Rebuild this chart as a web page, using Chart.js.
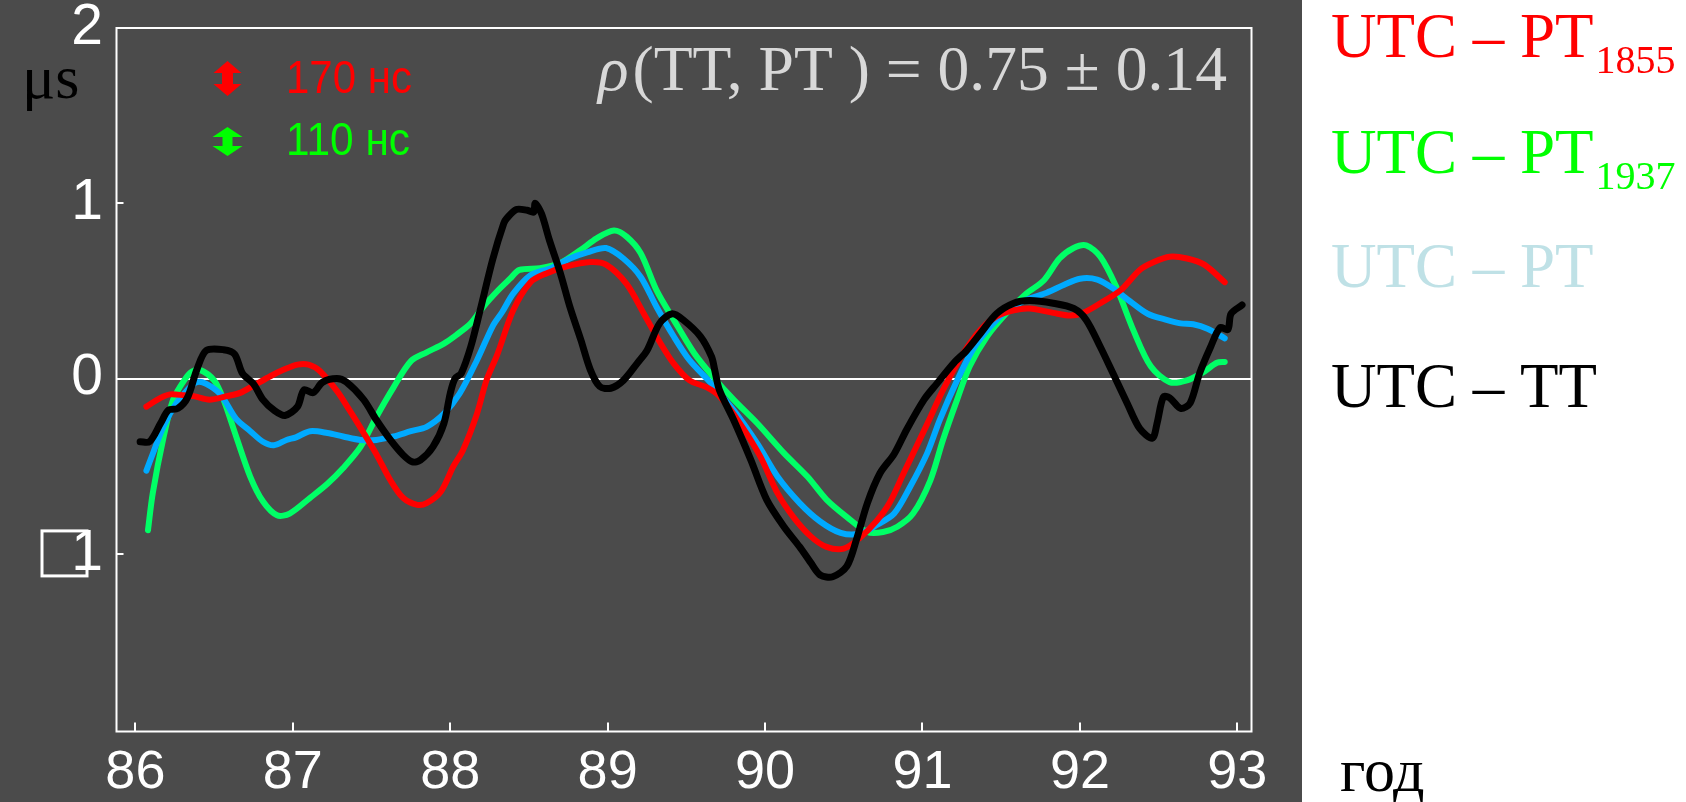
<!DOCTYPE html>
<html>
<head>
<meta charset="utf-8">
<script src="https://cdn.jsdelivr.net/npm/chart.js@4/dist/chart.umd.min.js"></script>
<style>
  html, body { margin: 0; padding: 0; background: #fff; }
  #wrap { width: 1686px; height: 802px; }
</style>
</head>
<body>
<div id="wrap"><canvas id="chart" width="1686" height="802"></canvas></div>
<script>
// UTC - PT(1855)
const years1855 = [86.07, 86.16, 86.22, 86.31, 86.37, 86.47, 86.58, 86.67, 86.75, 86.86, 86.94, 87.03, 87.10, 87.17, 87.28, 87.36, 87.45, 87.53, 87.62, 87.70, 87.79, 87.85, 87.94, 88.02, 88.08, 88.17, 88.23, 88.30, 88.40, 88.51, 88.61, 88.74, 88.89, 88.99, 89.12, 89.23, 89.33, 89.42, 89.52, 89.63, 89.71, 89.84, 89.97, 90.08, 90.18, 90.29, 90.39, 90.50, 90.60, 90.71, 90.79, 90.88, 90.96, 91.05, 91.13, 91.26, 91.37, 91.47, 91.58, 91.68, 91.83, 91.94, 92.02, 92.13, 92.26, 92.38, 92.47, 92.57, 92.68, 92.79, 92.92];
const utcPt1855 = [-0.16, -0.11, -0.09, -0.095, -0.10, -0.12, -0.10, -0.08, -0.04, 0.015, 0.05, 0.08, 0.08, 0.045, -0.07, -0.18, -0.31, -0.43, -0.58, -0.68, -0.72, -0.71, -0.645, -0.50, -0.41, -0.20, -0.01, 0.14, 0.39, 0.55, 0.60, 0.64, 0.665, 0.65, 0.54, 0.37, 0.21, 0.085, -0.01, -0.05, -0.10, -0.255, -0.445, -0.655, -0.79, -0.90, -0.96, -0.97, -0.91, -0.81, -0.71, -0.54, -0.39, -0.22, -0.065, 0.145, 0.28, 0.355, 0.39, 0.40, 0.375, 0.36, 0.375, 0.43, 0.505, 0.62, 0.665, 0.695, 0.685, 0.65, 0.55];

// UTC - PT(1937)
const years1937 = [86.08, 86.11, 86.18, 86.24, 86.31, 86.36, 86.41, 86.50, 86.56, 86.64, 86.73, 86.81, 86.90, 86.98, 87.11, 87.22, 87.32, 87.43, 87.53, 87.64, 87.75, 87.85, 87.96, 88.04, 88.13, 88.21, 88.30, 88.38, 88.44, 88.57, 88.70, 88.83, 88.93, 89.04, 89.12, 89.21, 89.31, 89.42, 89.55, 89.67, 89.80, 89.95, 90.12, 90.27, 90.39, 90.52, 90.65, 90.75, 90.84, 90.94, 91.05, 91.13, 91.22, 91.30, 91.41, 91.54, 91.66, 91.77, 91.87, 91.96, 92.04, 92.13, 92.23, 92.34, 92.45, 92.57, 92.68, 92.79, 92.87, 92.92];
const utcPt1937 = [-0.865, -0.655, -0.33, -0.12, -0.01, 0.04, 0.05, -0.01, -0.12, -0.33, -0.56, -0.70, -0.78, -0.77, -0.68, -0.60, -0.51, -0.39, -0.22, -0.05, 0.10, 0.15, 0.20, 0.25, 0.315, 0.41, 0.50, 0.57, 0.62, 0.63, 0.66, 0.735, 0.80, 0.845, 0.81, 0.715, 0.505, 0.335, 0.145, 0.01, -0.12, -0.255, -0.425, -0.56, -0.69, -0.79, -0.875, -0.875, -0.845, -0.77, -0.58, -0.35, -0.12, 0.07, 0.24, 0.38, 0.485, 0.56, 0.685, 0.745, 0.76, 0.695, 0.525, 0.275, 0.07, -0.02, -0.01, 0.04, 0.09, 0.095];

// UTC - PT (ensemble)
const yearsPT = [86.07, 86.11, 86.18, 86.26, 86.33, 86.39, 86.45, 86.54, 86.64, 86.73, 86.81, 86.88, 86.96, 87.02, 87.11, 87.22, 87.32, 87.43, 87.53, 87.64, 87.75, 87.85, 87.96, 88.06, 88.17, 88.27, 88.33, 88.40, 88.51, 88.64, 88.76, 88.87, 88.99, 89.10, 89.21, 89.31, 89.42, 89.52, 89.65, 89.80, 89.95, 90.08, 90.22, 90.35, 90.48, 90.60, 90.71, 90.82, 90.92, 91.03, 91.11, 91.22, 91.32, 91.43, 91.54, 91.66, 91.79, 91.90, 92.00, 92.11, 92.21, 92.32, 92.43, 92.55, 92.64, 92.72, 92.81, 92.92];
const utcPt = [-0.525, -0.43, -0.27, -0.14, -0.065, -0.02, -0.03, -0.09, -0.23, -0.30, -0.36, -0.38, -0.35, -0.335, -0.30, -0.31, -0.33, -0.35, -0.35, -0.33, -0.30, -0.275, -0.20, -0.085, 0.105, 0.30, 0.38, 0.485, 0.59, 0.63, 0.685, 0.72, 0.745, 0.685, 0.58, 0.41, 0.24, 0.105, -0.02, -0.18, -0.37, -0.56, -0.71, -0.815, -0.88, -0.885, -0.835, -0.77, -0.62, -0.425, -0.235, -0.01, 0.165, 0.295, 0.39, 0.45, 0.49, 0.535, 0.57, 0.565, 0.515, 0.44, 0.37, 0.335, 0.315, 0.31, 0.285, 0.23];

// UTC - TT
const yearsTT = [86.03, 86.09, 86.16, 86.21, 86.27, 86.33, 86.39, 86.45, 86.56, 86.63, 86.68, 86.75, 86.81, 86.88, 86.95, 87.03, 87.07, 87.13, 87.19, 87.28, 87.34, 87.45, 87.53, 87.62, 87.70, 87.76, 87.81, 87.89, 87.96, 88.00, 88.03, 88.07, 88.13, 88.19, 88.27, 88.34, 88.36, 88.42, 88.49, 88.53, 88.54, 88.58, 88.63, 88.70, 88.76, 88.83, 88.89, 88.95, 89.02, 89.10, 89.19, 89.25, 89.33, 89.41, 89.48, 89.59, 89.66, 89.68, 89.71, 89.80, 89.91, 90.01, 90.12, 90.22, 90.29, 90.35, 90.43, 90.52, 90.58, 90.65, 90.73, 90.82, 90.90, 91.01, 91.09, 91.20, 91.28, 91.37, 91.47, 91.58, 91.68, 91.83, 91.96, 92.04, 92.13, 92.21, 92.30, 92.38, 92.46, 92.49, 92.53, 92.57, 92.64, 92.70, 92.76, 92.83, 92.89, 92.94, 92.96, 93.03];
const utcTT = [-0.36, -0.36, -0.255, -0.18, -0.17, -0.11, 0.05, 0.16, 0.165, 0.14, 0.03, -0.03, -0.12, -0.18, -0.21, -0.16, -0.065, -0.08, -0.02, 0.00, -0.02, -0.12, -0.235, -0.35, -0.435, -0.475, -0.465, -0.39, -0.255, -0.085, 0.00, 0.03, 0.18, 0.39, 0.68, 0.885, 0.915, 0.965, 0.96, 0.95, 1.00, 0.94, 0.79, 0.60, 0.41, 0.22, 0.05, -0.045, -0.055, -0.01, 0.09, 0.16, 0.315, 0.37, 0.335, 0.24, 0.125, 0.05, -0.065, -0.235, -0.465, -0.69, -0.845, -0.96, -1.05, -1.12, -1.13, -1.07, -0.92, -0.71, -0.54, -0.43, -0.29, -0.12, -0.03, 0.09, 0.16, 0.26, 0.37, 0.43, 0.445, 0.43, 0.40, 0.335, 0.18, 0.03, -0.14, -0.285, -0.34, -0.255, -0.105, -0.11, -0.17, -0.14, 0.03, 0.18, 0.29, 0.28, 0.37, 0.42];

const xTicks = [86, 87, 88, 89, 90, 91, 92, 93];
const yTicks = [2, 1, 0, -1];
const yTickMarks = [1, -1];

const DARK = '#4b4b4b';
const SANS = '"Liberation Sans", Arial, sans-serif';
const SERIF = '"Liberation Serif", "Times New Roman", serif';

function toPoints(xs, ys) {
  return xs.map((x, i) => ({ x: x, y: ys[i] }));
}

function series(label, xs, ys, color, width, order) {
  return {
    label: label,
    data: toPoints(xs, ys),
    borderColor: color,
    borderWidth: width,
    borderCapStyle: 'round',
    borderJoinStyle: 'round',
    tension: 0.3,
    pointRadius: 0,
    fill: false,
    order: order
  };
}

// squeeze text horizontally into a given width
function fitText(ctx, str, x, y, width) {
  const w = ctx.measureText(str).width;
  ctx.save();
  ctx.translate(x, y);
  ctx.scale(Math.min(1, width / w), 1);
  ctx.fillText(str, 0, 0);
  ctx.restore();
}

function doubleArrow(ctx, cx, top, bottom, w, headH, shaftW, color) {
  ctx.beginPath();
  ctx.moveTo(cx, top);
  ctx.lineTo(cx + w / 2, top + headH);
  ctx.lineTo(cx + shaftW / 2, top + headH);
  ctx.lineTo(cx + shaftW / 2, bottom - headH);
  ctx.lineTo(cx + w / 2, bottom - headH);
  ctx.lineTo(cx, bottom);
  ctx.lineTo(cx - w / 2, bottom - headH);
  ctx.lineTo(cx - shaftW / 2, bottom - headH);
  ctx.lineTo(cx - shaftW / 2, top + headH);
  ctx.lineTo(cx - w / 2, top + headH);
  ctx.closePath();
  ctx.fillStyle = color;
  ctx.fill();
}

const backdrop = {
  id: 'backdrop',
  beforeDraw(chart) {
    const ctx = chart.ctx;
    ctx.save();
    ctx.fillStyle = '#ffffff';
    ctx.fillRect(0, 0, chart.width, chart.height);
    ctx.fillStyle = DARK;
    ctx.fillRect(0, 0, 1302, chart.height);
    ctx.restore();
  }
};

const frameAndNotes = {
  id: 'frameAndNotes',
  afterDraw(chart) {
    const ctx = chart.ctx;
    const a = chart.chartArea;
    const xs = chart.scales.x, ys = chart.scales.y;
    ctx.save();

    // frame
    ctx.strokeStyle = '#ffffff';
    ctx.lineWidth = 2;
    ctx.strokeRect(a.left, a.top, a.right - a.left, a.bottom - a.top);

    // inward tick marks
    ctx.beginPath();
    xTicks.forEach(v => {
      const px = Math.round(xs.getPixelForValue(v));
      ctx.moveTo(px, a.bottom);
      ctx.lineTo(px, a.bottom - 9);
    });
    yTickMarks.forEach(v => {
      const py = Math.round(ys.getPixelForValue(v));
      ctx.moveTo(a.left, py);
      ctx.lineTo(a.left + 7, py);
    });
    ctx.stroke();

    // the minus of the -1 label comes out as an empty box
    const pm = ys.getPixelForValue(-1);
    ctx.lineWidth = 3;
    ctx.strokeRect(42, pm - 23, 45, 45);

    // unit label
    ctx.fillStyle = '#000000';
    ctx.font = '62px ' + SERIF;
    ctx.textBaseline = 'alphabetic';
    ctx.textAlign = 'left';
    ctx.fillText('\u03bcs', 22, 98);

    // error scale arrows
    doubleArrow(ctx, 227.5, 61, 96, 28, 12, 11, '#ff0000');
    doubleArrow(ctx, 227.5, 127, 156, 30, 10, 10, '#00ff00');
    ctx.font = '46px ' + SANS;
    ctx.fillStyle = '#ff0000';
    fitText(ctx, '170 \u043d\u0441', 286, 93, 126);
    ctx.fillStyle = '#00ff00';
    fitText(ctx, '110 \u043d\u0441', 286, 155, 124);

    // correlation
    ctx.fillStyle = '#d8d8d8';
    const rho = '\u03c1';
    const rest = '(TT, PT ) = 0.75 \u00b1 0.14';
    ctx.font = 'italic 64px ' + SERIF;
    const wRho = ctx.measureText(rho).width;
    ctx.font = '64px ' + SERIF;
    const wRest = ctx.measureText(rest).width;
    const k = 625 / (wRho + wRest);
    ctx.save();
    ctx.translate(598, 90);
    ctx.scale(k, 1);
    ctx.font = 'italic 64px ' + SERIF;
    ctx.fillText(rho, 0, 0);
    ctx.font = '64px ' + SERIF;
    ctx.fillText(rest, wRho + 4, 0);
    ctx.restore();

    // series legend
    const entries = [
      { main: 'UTC \u2013 PT', sub: '1855', color: '#ff0000', y: 57 },
      { main: 'UTC \u2013 PT', sub: '1937', color: '#00ff00', y: 172.5 },
      { main: 'UTC \u2013 PT', sub: '', color: '#bfe1e6', y: 287 },
      { main: 'UTC \u2013 TT', sub: '', color: '#000000', y: 406.5 }
    ];
    entries.forEach(e => {
      ctx.fillStyle = e.color;
      ctx.font = '63px ' + SERIF;
      const w = ctx.measureText(e.main).width;
      ctx.fillText(e.main, 1331, e.y);
      if (e.sub) {
        ctx.font = '40px ' + SERIF;
        ctx.fillText(e.sub, 1331 + w + 2, e.y + 16);
      }
    });

    // axis title
    ctx.fillStyle = '#000000';
    ctx.font = '62px ' + SERIF;
    ctx.fillText('\u0433\u043e\u0434', 1340, 791);

    ctx.restore();
  }
};

new Chart(document.getElementById('chart'), {
  type: 'line',
  data: {
    datasets: [
      series('UTC \u2013 TT', yearsTT, utcTT, '#000000', 7, 0),
      series('UTC \u2013 PT1855', years1855, utcPt1855, '#ff0000', 6, 1),
      series('UTC \u2013 PT', yearsPT, utcPt, '#00aaff', 6, 2),
      series('UTC \u2013 PT1937', years1937, utcPt1937, '#00ff66', 6, 3)
    ]
  },
  options: {
    responsive: false,
    animation: false,
    devicePixelRatio: 1,
    layout: { padding: { left: 0, top: 28, right: 434.5, bottom: 0 } },
    plugins: { legend: { display: false }, tooltip: { enabled: false } },
    scales: {
      x: {
        type: 'linear',
        min: 85.88,
        max: 93.09,
        afterBuildTicks: s => { s.ticks = xTicks.map(v => ({ value: v })); },
        afterFit: s => { s.height = 70.5; s.paddingLeft = 0; s.paddingRight = 0; },
        grid: { display: false },
        border: { display: false },
        ticks: {
          color: '#ffffff',
          font: { family: SANS, size: 54 },
          padding: 1,
          maxRotation: 0,
          autoSkip: false,
          callback: v => String(v)
        }
      },
      y: {
        type: 'linear',
        min: -2.013,
        max: 2,
        afterBuildTicks: s => { s.ticks = yTicks.map(v => ({ value: v })); },
        afterFit: s => { s.width = 116.5; s.paddingTop = 0; s.paddingBottom = 0; },
        grid: {
          drawTicks: false,
          lineWidth: 2,
          color: c => (c.tick && c.tick.value === 0) ? '#ffffff' : 'rgba(0,0,0,0)'
        },
        border: { display: false },
        ticks: {
          color: '#ffffff',
          font: { family: SANS, size: 57 },
          padding: 13.5,
          callback: v => String(Math.abs(v))
        }
      }
    }
  },
  plugins: [backdrop, frameAndNotes]
});
</script>
</body>
</html>
